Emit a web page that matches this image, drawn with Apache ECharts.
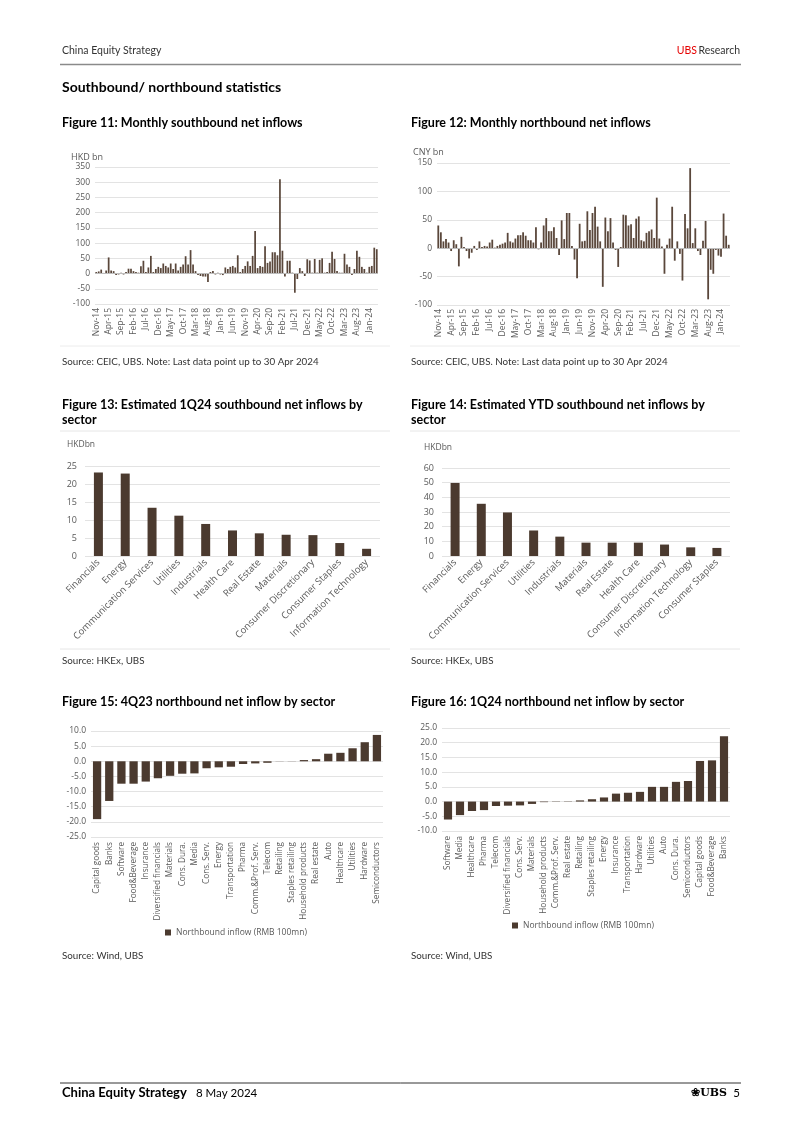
<!DOCTYPE html>
<html>
<head>
<meta charset="utf-8">
<script src="https://cdn.jsdelivr.net/npm/echarts@6/dist/echarts.min.js"></script>
<style>
html,body{margin:0;padding:0;background:#fff;}
#page{width:802px;height:1134px;}
</style>
</head>
<body>
<div id="page"></div>
<script>
// ---------- DATA ----------
const monthNames = ['Jan','Feb','Mar','Apr','May','Jun','Jul','Aug','Sep','Oct','Nov','Dec'];
const monthLabels = [];
for (let y = 2014, m = 10; y < 2024 || (y === 2024 && m <= 3); ) {
  monthLabels.push(monthNames[m] + '-' + String(y).slice(2));
  m++; if (m > 11) { m = 0; y++; }
}
// Figure 11: monthly southbound net inflows (HKD bn), Nov-14 .. Apr-24
const southboundValues = [
  5, 7, 13, 2, 10, 53, 10, 8, -5, -3,
  3, -3, 5, 16, 16, 8, 5, 3, 24, 42,
  5, 20, 58, 5, 15, 22, 18, 33, 25, 20,
  33, 15, 33, 10, 22, 30, 57, 30, 77, 30,
  8, -5, -8, -10, -10, -28, 5, 8, -3, 3,
  -3, -5, 20, 15, 22, 25, 20, 60, 5, 15,
  25, 40, 25, 58, 140, 18, 25, 22, 90, 35,
  40, 70, 70, 60, 310, 75, -10, 42, 42, 3,
  -63, -18, 18, 8, -8, 47, 43, 3, 48, 3,
  45, 50, 3, 5, 35, 72, 48, 8, 3, 3,
  65, 30, 22, -5, 15, 75, 55, 22, 15, 3,
  22, 25, 85, 80
];
// Figure 12: monthly northbound net inflows (CNY bn), Nov-14 .. Apr-24
const northboundValues = [
  40, 28, 12, 16, 10, -5, 14, 7, -32, 20,
  2, -5, -18, -8, 4, -3, 12, 2, 4, 3,
  10, 15, 1, 4, 6, 8, 10, 27, 12, 10,
  17, 23, 23, 28, 22, 14, 14, 10, 37, -2,
  10, 40, 53, 30, 30, 37, 18, -12, 49, 16,
  62, 62, 4, -20, -53, 43, 12, 13, 65, 32,
  62, 73, 38, 12, -68, 54, 30, 53, 10, -3,
  -33, 2, 59, 58, 40, 42, 18, 52, 56, 14,
  12, 27, 30, 33, 18, 89, 17, 3, -45, 6,
  17, 73, -22, 12, -10, -57, 60, 35, 141, 9,
  35, -5, -12, 13, 48, -90, -38, -45, -3, -13,
  -15, 61, 22, 6
];
// Figure 13
const sectors13 = ['Financials','Energy','Communication Services','Utilities','Industrials','Health Care','Real Estate','Materials','Consumer Discretionary','Consumer Staples','Information Technology'];
const values13 = [23.2, 22.9, 13.4, 11.2, 8.9, 7.1, 6.3, 5.9, 5.8, 3.6, 2.0];
// Figure 14
const sectors14 = ['Financials','Energy','Communication Services','Utilities','Industrials','Materials','Real Estate','Health Care','Consumer Discretionary','Information Technology','Consumer Staples'];
const values14 = [49.8, 35.6, 29.7, 17.4, 13.2, 9.1, 9.1, 9.1, 7.8, 5.9, 5.5];
// Figure 15
const sectors15 = ['Capital goods','Banks','Software','Food&Beverage','Insurance','Diversified financials','Materials','Cons. Dura.','Media','Cons. Serv.','Energy','Transportation','Pharma','Comm.&Prof. Serv.','Telecom','Retailing','Staples retailing','Household products','Real estate','Auto','Healthcare','Utilities','Hardware','Semiconductors'];
const values15 = [-19.1, -13.1, -7.4, -7.4, -6.7, -5.6, -4.8, -4.1, -4.0, -2.3, -2.0, -1.8, -0.9, -0.7, -0.5, -0.05, 0.05, 0.4, 0.7, 2.5, 2.8, 4.3, 6.3, 8.7];
// Figure 16
const sectors16 = ['Software','Media','Healthcare','Pharma','Telecom','Diversified financials','Cons. Serv.','Materials','Household products','Comm.&Prof. Serv.','Real estate','Retailing','Staples retailing','Energy','Insurance','Transportation','Hardware','Utilities','Auto','Cons. Dura.','Semiconductors','Capital goods','Food&Beverage','Banks'];
const values16 = [-6.1, -4.6, -3.2, -2.9, -1.5, -1.4, -1.3, -0.8, -0.2, -0.1, -0.1, 0.4, 0.8, 1.4, 2.7, 3.0, 3.3, 5.0, 5.0, 6.7, 7.0, 13.8, 14.0, 22.2];
const legendName = 'Northbound inflow (RMB 100mn)';

// ---------- STYLE ----------
const BAR = '#4b3a2f';
const TICK = '#595959';
const GRIDLINE = '#e3e3e3';
const FONT = 'Open Sans';
const PFONT = 'Lato';

function yAx(gi, min, max, interval, fs, margin, fmt) {
  return {
    type: 'value', gridIndex: gi, min: min, max: max, interval: interval,
    axisLine: {show: false}, axisTick: {show: false},
    splitLine: {lineStyle: {color: GRIDLINE, width: 1}},
    axisLabel: {color: TICK, fontSize: fs, fontFamily: FONT, margin: margin, formatter: fmt}
  };
}
function xAx(gi, cats, rotate, fs, interval, margin) {
  return {
    type: 'category', gridIndex: gi, data: cats,
    axisLine: {show: false}, axisTick: {show: false},
    axisLabel: {color: TICK, fontSize: fs, fontFamily: FONT, rotate: rotate, interval: interval, margin: margin}
  };
}
function zeroLine() {
  return {silent: true, symbol: 'none', label: {show: false}, data: [{yAxis: 0}], lineStyle: {color: '#bdbdbd', width: 1, type: 'solid'}};
}
function txt(x, y, text, font, fill, align) {
  return {type: 'text', x: x, y: y, silent: true,
    style: {text: text, font: font, fill: fill || '#000', align: align || 'left', verticalAlign: 'middle',
            textAlign: align || 'left', textVerticalAlign: 'middle'}};
}
function hline(x1, x2, y, color, w) {
  return {type: 'line', silent: true, shape: {x1: x1, y1: y, x2: x2, y2: y}, style: {stroke: color, lineWidth: w}};
}

const chart = echarts.init(document.getElementById('page'), null, {renderer: 'canvas', width: 802, height: 1134});

const option = {
  backgroundColor: '#ffffff',
  animation: false,
  grid: [
    {left: 95, top: 167, width: 283, height: 137, outerBoundsMode: 'none'},
    {left: 437, top: 163, width: 293, height: 142, outerBoundsMode: 'none'},
    {left: 85, top: 466, width: 295, height: 90, outerBoundsMode: 'none'},
    {left: 442, top: 468, width: 288, height: 88, outerBoundsMode: 'none'},
    {left: 91, top: 731, width: 292, height: 106, outerBoundsMode: 'none'},
    {left: 442, top: 728, width: 288, height: 103, outerBoundsMode: 'none'}
  ],
  xAxis: [
    xAx(0, monthLabels, 90, 8.5, 4, 4),
    xAx(1, monthLabels, 90, 8.5, 4, 4),
    xAx(2, sectors13, 45, 9.5, 0, 5),
    xAx(3, sectors14, 45, 9.5, 0, 5),
    xAx(4, sectors15, 90, 8.2, 0, 5),
    xAx(5, sectors16, 90, 8.2, 0, 5)
  ],
  yAxis: [
    yAx(0, -100, 350, 50, 8.5, 5),
    yAx(1, -100, 150, 50, 8.5, 5),
    yAx(2, 0, 25, 5, 9, 8),
    yAx(3, 0, 60, 10, 9, 8),
    yAx(4, -25, 10, 5, 8.5, 5, v => v.toFixed(1)),
    yAx(5, -10, 25, 5, 8.5, 5, v => v.toFixed(1))
  ],
  legend: [
    {data: [{name: legendName, icon: 'rect'}], left: 160, top: 923, itemWidth: 6, itemHeight: 6, itemGap: 4,
     textStyle: {color: TICK, fontSize: 8.5, fontFamily: FONT}, selectedMode: false},
    {data: [{name: legendName, icon: 'rect'}], left: 507, top: 916, itemWidth: 6, itemHeight: 6, itemGap: 4,
     textStyle: {color: TICK, fontSize: 8.5, fontFamily: FONT}, selectedMode: false}
  ],
  series: [
    {name: 'Southbound', type: 'bar', xAxisIndex: 0, yAxisIndex: 0, data: southboundValues, barCategoryGap: '30%',
     itemStyle: {color: '#5a473b'}, markLine: zeroLine()},
    {name: 'Northbound', type: 'bar', xAxisIndex: 1, yAxisIndex: 1, data: northboundValues, barCategoryGap: '30%',
     itemStyle: {color: '#5a473b'}, markLine: zeroLine()},
    {name: 'Fig13', type: 'bar', xAxisIndex: 2, yAxisIndex: 2, data: values13, barWidth: 9, itemStyle: {color: BAR}},
    {name: 'Fig14', type: 'bar', xAxisIndex: 3, yAxisIndex: 3, data: values14, barWidth: 9, itemStyle: {color: BAR}},
    {name: legendName, type: 'bar', xAxisIndex: 4, yAxisIndex: 4, data: values15, barCategoryGap: '32%', itemStyle: {color: BAR}},
    {name: legendName, type: 'bar', xAxisIndex: 5, yAxisIndex: 5, data: values16, barCategoryGap: '32%', itemStyle: {color: BAR}}
  ],
  graphic: [
    txt(62, 51, 'China Equity Strategy', '10.5px ' + PFONT, '#333'),
    txt(740, 51, 'Research', '10.5px ' + PFONT, '#333', 'right'),
    txt(697, 51, 'UBS', '10.5px ' + PFONT, '#e60000', 'right'),
    hline(60, 741, 64.5, '#8a8a8a', 1.5),
    txt(62, 87, 'Southbound/ northbound statistics', 'bold 14px ' + PFONT, '#000'),
    txt(62, 123, 'Figure 11: Monthly southbound net inflows', 'bold 12.5px ' + PFONT, '#000'),
    txt(411, 123, 'Figure 12: Monthly northbound net inflows', 'bold 12.5px ' + PFONT, '#000'),
    txt(71, 157, 'HKD bn', '9px ' + FONT, TICK),
    txt(413, 152, 'CNY bn', '9px ' + FONT, TICK),
    hline(60, 390, 346, '#ececec', 1),
    hline(410, 740, 346, '#ececec', 1),
    txt(62, 362, 'Source: CEIC, UBS. Note: Last data point up to 30 Apr 2024', '9.8px ' + PFONT, '#333'),
    txt(411, 362, 'Source: CEIC, UBS. Note: Last data point up to 30 Apr 2024', '9.8px ' + PFONT, '#333'),
    txt(62, 405, 'Figure 13: Estimated 1Q24 southbound net inflows by', 'bold 12.5px ' + PFONT, '#000'),
    txt(62, 420, 'sector', 'bold 12.5px ' + PFONT, '#000'),
    txt(411, 405, 'Figure 14: Estimated YTD southbound net inflows by', 'bold 12.5px ' + PFONT, '#000'),
    txt(411, 420, 'sector', 'bold 12.5px ' + PFONT, '#000'),
    hline(60, 390, 431, '#e6e6e6', 1),
    hline(410, 740, 431, '#e6e6e6', 1),
    hline(60, 390, 649, '#e6e6e6', 1),
    hline(410, 740, 649, '#e6e6e6', 1),
    txt(67, 445, 'HKDbn', '8.5px ' + FONT, TICK),
    txt(424, 448, 'HKDbn', '8.5px ' + FONT, TICK),
    txt(62, 661, 'Source: HKEx, UBS', '9.8px ' + PFONT, '#333'),
    txt(411, 661, 'Source: HKEx, UBS', '9.8px ' + PFONT, '#333'),
    txt(62, 702, 'Figure 15: 4Q23 northbound net inflow by sector', 'bold 12.5px ' + PFONT, '#000'),
    txt(411, 702, 'Figure 16: 1Q24 northbound net inflow by sector', 'bold 12.5px ' + PFONT, '#000'),
    txt(62, 956, 'Source: Wind, UBS', '9.8px ' + PFONT, '#333'),
    txt(411, 956, 'Source: Wind, UBS', '9.8px ' + PFONT, '#333'),
    hline(60, 741, 1083, '#333', 1),
    txt(62, 1093, 'China Equity Strategy', 'bold 13px ' + PFONT, '#000'),
    txt(196, 1093, '8 May 2024', '11.5px ' + PFONT, '#000'),
    txt(727, 1093, '\u2740UBS', 'bold 11px "DejaVu Serif"', '#000', 'right'),
    txt(740, 1093, '5', '11.5px ' + PFONT, '#000', 'right')
  ]
};
chart.setOption(option);
</script>
</body>
</html>
